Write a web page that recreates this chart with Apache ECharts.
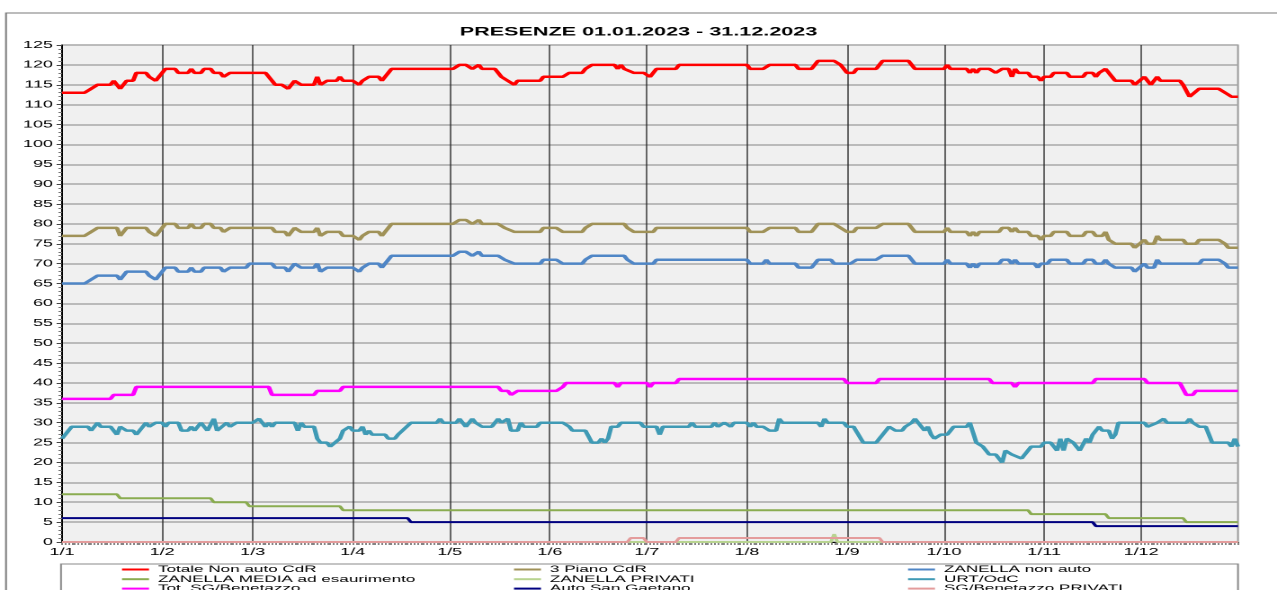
<!DOCTYPE html>
<html><head><meta charset="utf-8">
<script src="https://cdn.jsdelivr.net/npm/echarts@6/dist/echarts.min.js"></script>
<style>
html,body{margin:0;padding:0;background:#fff;overflow:hidden}
#wrap{width:1277px;height:590px;overflow:hidden;position:relative}
#chart{position:absolute;left:0;top:0;width:710px;height:590px;transform:scaleX(1.798592);transform-origin:0 0}
</style></head><body>
<div id="wrap"><div id="chart"></div></div>
<script>
// ---------- DATA ----------
const titleText = 'PRESENZE 01.01.2023 - 31.12.2023';
// categories: every day of 2023 as "d/m"
const categories = [];
(function(){const d=new Date(Date.UTC(2023,0,1));for(let i=0;i<365;i++){categories.push(d.getUTCDate()+'/'+(d.getUTCMonth()+1));d.setUTCDate(d.getUTCDate()+1);}})();
const monthLabels = ['1/1','1/2','1/3','1/4','1/5','1/6','1/7','1/8','1/9','1/10','1/11','1/12'];
const seriesNames = ['Totale Non auto CdR','3 Piano CdR','ZANELLA non auto','ZANELLA MEDIA ad esaurimento','ZANELLA PRIVATI','URT/OdC','Tot. SG/Benetazzo','Auto San Gaetano','SG/Benetazzo PRIVATI'];
// [dayIndex, value] points
const totaleNonAuto = [[0,113],[7,113],[9,114],[10,114],[11,115],[15,115],[16,116],[17,116],[18,114],[19,115],[20,116],[22,116],[23,118],[26,118],[27,117],[28,117],[29,116],[30,117],[32,119],[35,119],[36,118],[39,118],[40,119],[41,118],[43,118],[44,119],[46,119],[47,118],[49,118],[50,117],[51,117],[52,118],[63,118],[65,116],[66,115],[68,115],[70,114],[72,116],[73,116],[74,115],[78,115],[79,117],[80,115],[81,115],[82,116],[85,116],[86,117],[87,116],[90,116],[92,115],[93,116],[94,116],[95,117],[98,117],[99,116],[102,119],[121,119],[123,120],[125,120],[127,119],[128,119],[129,120],[130,119],[134,119],[136,117],[137,117],[138,116],[140,115],[141,116],[148,116],[149,117],[155,117],[157,118],[161,118],[162,119],[163,119],[164,120],[171,120],[172,119],[173,120],[174,119],[175,119],[177,118],[180,118],[182,117],[184,119],[190,119],[191,120],[212,120],[213,119],[217,119],[219,120],[227,120],[228,119],[232,119],[234,121],[239,121],[241,120],[242,119],[243,118],[245,118],[246,119],[252,119],[254,121],[262,121],[264,119],[273,119],[274,120],[275,119],[280,119],[281,118],[282,119],[283,118],[284,119],[287,119],[289,118],[290,118],[291,119],[293,119],[294,117],[295,119],[296,118],[299,118],[300,117],[302,117],[303,116],[304,117],[306,117],[307,118],[311,118],[312,117],[316,117],[317,118],[319,118],[320,117],[321,118],[322,118],[323,119],[325,117],[326,116],[331,116],[332,115],[335,117],[337,115],[338,115],[339,117],[340,116],[346,116],[347,115],[349,112],[350,112],[352,114],[358,114],[360,113],[361,113],[362,112],[364,112]];
const terzoPiano = [[0,77],[7,77],[9,78],[10,78],[11,79],[17,79],[18,77],[20,79],[26,79],[27,78],[28,78],[29,77],[31,79],[32,80],[35,80],[36,79],[39,79],[40,80],[41,79],[43,79],[44,80],[46,80],[47,79],[49,79],[50,78],[51,78],[52,79],[65,79],[66,78],[69,78],[70,77],[72,79],[73,79],[74,78],[78,78],[79,79],[80,77],[81,77],[82,78],[86,78],[87,77],[90,77],[92,76],[93,77],[94,77],[95,78],[98,78],[99,77],[102,80],[121,80],[123,81],[125,81],[127,80],[128,80],[129,81],[130,80],[135,80],[137,79],[138,79],[140,78],[148,78],[149,79],[153,79],[155,78],[161,78],[162,79],[164,80],[174,80],[175,79],[177,78],[183,78],[184,79],[212,79],[213,78],[217,78],[219,79],[227,79],[228,78],[232,78],[234,80],[239,80],[241,79],[242,79],[243,78],[245,78],[246,79],[252,79],[254,80],[262,80],[264,78],[273,78],[274,79],[275,78],[280,78],[281,77],[282,78],[283,77],[284,78],[290,78],[291,79],[293,79],[294,78],[295,79],[296,78],[299,78],[300,77],[302,77],[303,76],[304,77],[306,77],[307,78],[311,78],[312,77],[316,77],[317,78],[319,78],[320,77],[322,77],[323,78],[324,76],[326,75],[331,75],[332,74],[335,76],[336,75],[338,75],[339,77],[340,76],[347,76],[348,75],[351,75],[352,76],[358,76],[360,75],[361,74],[364,74]];
const zanellaNonAuto = [[0,65],[7,65],[9,66],[10,66],[11,67],[17,67],[18,66],[20,68],[26,68],[27,67],[28,67],[29,66],[32,69],[35,69],[36,68],[39,68],[40,69],[41,68],[43,68],[44,69],[49,69],[50,68],[51,68],[52,69],[57,69],[58,70],[65,70],[66,69],[69,69],[70,68],[72,70],[73,70],[74,69],[78,69],[79,70],[80,68],[81,68],[82,69],[90,69],[92,68],[93,69],[94,69],[95,70],[98,70],[99,69],[102,72],[121,72],[123,73],[125,73],[127,72],[128,72],[129,73],[130,72],[135,72],[137,71],[138,71],[140,70],[148,70],[149,71],[153,71],[155,70],[161,70],[162,71],[164,72],[174,72],[175,71],[177,70],[183,70],[184,71],[212,71],[213,70],[217,70],[218,71],[219,70],[227,70],[228,69],[232,69],[234,71],[238,71],[239,70],[244,70],[246,71],[252,71],[254,72],[262,72],[264,70],[273,70],[274,71],[275,70],[280,70],[281,69],[282,70],[283,69],[284,70],[290,70],[291,71],[293,71],[294,70],[295,71],[296,70],[301,70],[302,69],[303,70],[305,70],[306,71],[311,71],[312,70],[316,70],[317,71],[319,71],[320,70],[322,70],[323,71],[324,70],[326,69],[331,69],[332,68],[335,70],[336,69],[338,69],[339,71],[340,70],[352,70],[353,71],[358,71],[360,70],[361,69],[364,69]];
const zanellaMedia = [[0,12],[17,12],[18,11],[46,11],[47,10],[57,10],[58,9],[86,9],[87,8],[299,8],[300,7],[323,7],[324,6],[347,6],[348,5],[364,5]];
const zanellaPrivati = [[0,0],[238,0],[239,2],[240,0],[364,0]];
const urtOdc = [[0,26],[1,27],[2,27],[3,29],[8,29],[9,28],[10,28],[11,30],[12,29],[15,29],[17,27],[18,29],[19,29],[20,28],[22,28],[23,27],[24,27],[26,30],[27,29],[28,29],[29,30],[31,30],[32,29],[33,30],[36,30],[37,28],[39,28],[40,29],[41,28],[42,28],[43,30],[44,30],[45,28],[47,31],[48,28],[49,28],[51,30],[52,29],[53,29],[54,30],[59,30],[61,31],[62,30],[63,29],[64,30],[65,29],[66,30],[72,30],[73,28],[74,30],[75,29],[78,29],[79,26],[80,25],[82,25],[83,24],[84,24],[86,26],[87,28],[89,29],[90,28],[92,28],[93,29],[94,27],[95,28],[96,27],[100,27],[101,26],[103,26],[104,27],[105,27],[108,30],[116,30],[117,31],[118,30],[122,30],[123,31],[125,29],[126,29],[127,31],[128,30],[130,29],[133,29],[135,31],[136,30],[137,30],[138,31],[139,28],[141,28],[142,30],[143,29],[147,29],[148,30],[155,30],[157,29],[158,28],[162,28],[164,25],[166,25],[167,26],[168,25],[169,26],[170,29],[172,29],[173,30],[179,30],[180,29],[184,29],[185,27],[186,29],[194,29],[195,30],[196,29],[201,29],[202,30],[203,29],[204,29],[205,30],[206,30],[207,29],[208,30],[212,30],[213,29],[214,30],[215,29],[217,29],[219,28],[221,28],[222,31],[223,30],[234,30],[235,29],[236,31],[237,30],[242,30],[243,29],[245,29],[248,25],[252,25],[256,29],[258,28],[260,28],[261,29],[262,29],[263,30],[264,31],[266,29],[267,28],[268,29],[269,27],[270,26],[272,27],[274,27],[276,29],[280,29],[281,30],[282,30],[283,25],[285,24],[287,22],[289,22],[291,20],[292,23],[294,22],[295,22],[297,21],[300,24],[303,24],[304,25],[306,25],[308,23],[309,26],[310,23],[311,26],[313,25],[315,23],[317,26],[318,25],[319,27],[321,29],[322,28],[324,28],[325,26],[326,27],[327,30],[335,30],[336,29],[337,29],[339,30],[341,31],[342,30],[348,30],[349,31],[350,30],[352,29],[354,29],[356,25],[361,25],[362,24],[363,26],[364,24]];
const totSgBenetazzo = [[0,36],[15,36],[16,37],[22,37],[23,39],[64,39],[65,37],[78,37],[79,38],[86,38],[87,39],[135,39],[136,38],[138,38],[139,37],[140,37],[141,38],[153,38],[155,39],[156,40],[171,40],[172,39],[173,40],[181,40],[182,39],[183,40],[190,40],[191,41],[242,41],[243,40],[252,40],[253,41],[287,41],[288,40],[294,40],[295,39],[296,40],[319,40],[320,41],[335,41],[336,40],[346,40],[348,37],[350,37],[351,38],[364,38]];
const autoSanGaetano = [[0,6],[107,6],[108,5],[319,5],[320,4],[364,4]];
const sgBenetazzoPrivati = [[0,0],[175,0],[176,1],[180,1],[181,0],[190,0],[191,1],[253,1],[254,0],[364,0]];

const seriesData = [totaleNonAuto,terzoPiano,zanellaNonAuto,zanellaMedia,zanellaPrivati,urtOdc,totSgBenetazzo,autoSanGaetano,sgBenetazzoPrivati];
const seriesColors = ['#ff0000','#a09258','#4f86c6','#8aac50','#b8d490','#3f9ab5','#ff00ff','#000080','#e49c9c'];
const seriesWidths = [2.5,2.5,2.5,2,2,2.5,2.5,2,2];

// ---------- LAYOUT (stretched canvas) ----------
const SX = 1277/710;
const px = x => x / SX;
const FONT = "'Liberation Sans', Arial, sans-serif";

const chart = echarts.init(document.getElementById('chart'), null, {renderer:'canvas', devicePixelRatio: 2});

const monthStart = (idx, val) => monthLabels.indexOf(val) >= 0;

// legend grid: 3 columns x 3 rows (row-major order of series)
const legendColLeft = [px(122), px(514), px(908)];
const legendRowTop = [564.5, 574.2, 583.6];

const option = {
  animation: false,
  backgroundColor: '#ffffff',
  textStyle: {fontFamily: FONT},
  title: {
    text: titleText, left: 'center', top: 26, padding: 0,
    textStyle: {fontFamily: FONT, fontSize: 12, fontWeight: 'bold', color: '#000'}
  },
  grid: {
    left: px(62), right: 710 - px(1238), top: 45, bottom: 48,
    show: true, backgroundColor: '#f0f0f0', borderColor: '#9a9a9a', borderWidth: 1
  },
  legend: seriesNames.map((n, i) => ({
    data: [n], orient: 'horizontal', left: legendColLeft[i % 3], top: legendRowTop[Math.floor(i / 3)], padding: 0,
    itemGap: 0, itemWidth: 15, itemHeight: 2, icon: 'rect',
    textStyle: {fontFamily: FONT, fontSize: 9.5, color: '#000', lineHeight: 9.7}
  })),
  xAxis: {
    type: 'category', data: categories, boundaryGap: false,
    axisLine: {show: true, lineStyle: {color: '#000', width: 1}},
    axisTick: {show: true, interval: 0, length: 3, lineStyle: {color: '#333', width: 0.6}},
    axisLabel: {interval: monthStart, margin: 5, fontFamily: FONT, fontSize: 10, color: '#000'},
    splitLine: {show: true, interval: monthStart, lineStyle: {color: '#2a2a2a', width: 0.7}}
  },
  yAxis: {
    type: 'value', min: 0, max: 125, interval: 5,
    axisLine: {show: true, lineStyle: {color: '#000', width: 1}},
    axisTick: {show: true, length: 3, lineStyle: {color: '#444'}},
    minorTick: {show: true, splitNumber: 5, length: 2, lineStyle: {color: '#777'}},
    axisLabel: {margin: 5, fontFamily: FONT, fontSize: 10, color: '#000'},
    splitLine: {show: true, lineStyle: {color: '#a8a8a8', width: 1.6}}
  },
  graphic: [
    {type: 'rect', z: -10, silent: true, shape: {x: px(6), y: 13, width: 800, height: 700}, style: {fill: 'none', stroke: '#7a7a7a', lineWidth: 1}},
    {type: 'rect', z: -10, silent: true, shape: {x: px(61), y: 564, width: px(1238) - px(61), height: 60}, style: {fill: 'none', stroke: '#8a8a8a', lineWidth: 1}}
  ],
  series: seriesNames.map((n, i) => ({
    name: n, type: 'line', data: seriesData[i], symbol: 'none', showSymbol: false,
    clip: false, color: seriesColors[i],
    lineStyle: {color: seriesColors[i], width: seriesWidths[i]},
    emphasis: {disabled: true}
  }))
};
chart.setOption(option);
</script>
</body></html>
